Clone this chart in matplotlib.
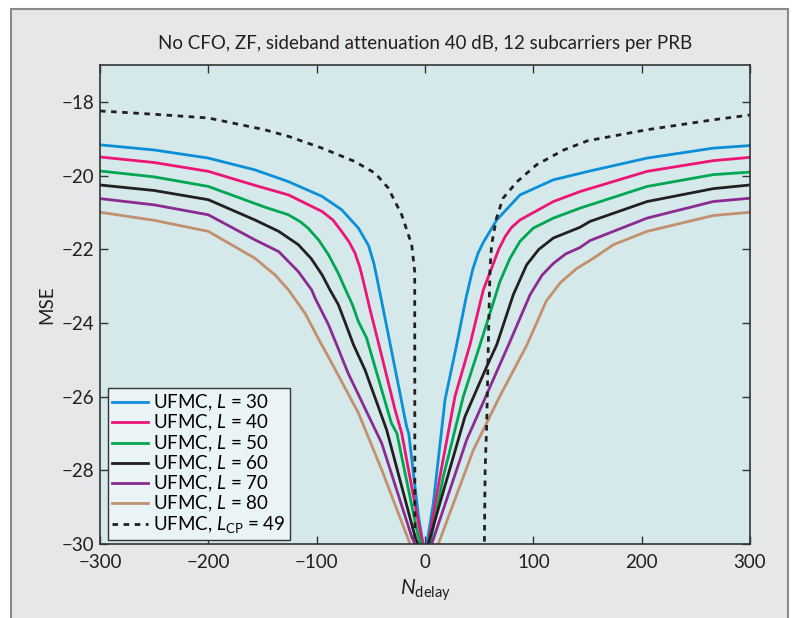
import matplotlib
matplotlib.use("Agg")
import matplotlib.pyplot as plt
from matplotlib.patches import Rectangle

plt.rcParams["font.family"] = ["Lato", "DejaVu Sans"]
plt.rcParams["mathtext.fontset"] = "custom"
plt.rcParams["mathtext.rm"] = "Lato"
plt.rcParams["mathtext.it"] = "Lato:italic"

# данные (N_delay, MSE)
x_l30 = [-300, -250, -200, -157, -126, -95, -77, -61.5, -52, -47, -40, -32, -17, -15, -6, 0,
         7.7, 18.5, 29.2, 38, 44, 49, 54, 66.2, 87.7, 118.5, 152.3, 205, 266, 300]
y_l30 = [-19.16, -19.30, -19.52, -19.84, -20.16, -20.56, -20.92, -21.42, -21.9, -22.4, -23.41, -24.59, -26.81, -27.0, -29.25, -30.3,
         -28.89, -26.08, -24.59, -23.3, -22.55, -22.1, -21.8, -21.2, -20.52, -20.11, -19.87, -19.52, -19.25, -19.18]

x_l40 = [-300, -250, -200, -157, -126, -95, -85, -77, -70, -64.6, -60, -57, -51, -42.5, -27.7, -21.5, -6, 0,
         3, 13.8, 27.7, 41.5, 53.8, 61.5, 68, 74, 80, 87.7, 118.5, 143, 205, 266, 300]
y_l40 = [-19.49, -19.64, -19.88, -20.26, -20.52, -20.97, -21.2, -21.51, -21.8, -22.1, -22.5, -22.85, -23.6, -24.59, -26.35, -26.99, -29.43, -30.3,
         -30.0, -28.17, -25.99, -24.59, -23.1, -22.51, -22.0, -21.65, -21.4, -21.2, -20.7, -20.43, -19.88, -19.59, -19.5]

x_l50 = [-300, -250, -200, -148, -126, -115, -108, -98, -89, -80, -74, -67, -61.5, -54, -31, -26, -7.7, 0,
         4.6, 16.9, 35.4, 50.8, 69.2, 78.5, 87.7, 100, 118.5, 143, 205, 266, 300]
y_l50 = [-19.87, -20.03, -20.29, -20.85, -21.06, -21.25, -21.42, -21.75, -22.15, -22.65, -23.05, -23.5, -23.96, -24.4, -26.72, -26.99, -29.6, -30.4,
         -30.0, -28.17, -25.99, -24.59, -22.87, -22.24, -21.78, -21.42, -21.15, -20.88, -20.29, -19.97, -19.9]

x_l60 = [-300, -250, -200, -157, -135, -117, -105, -95, -87.7, -80, -74, -66, -55.4, -35.4, -9.2, 0,
         3, 13.8, 36.9, 57, 66.2, 81.5, 93.8, 105, 118.5, 143, 152.3, 205, 266, 300]
y_l60 = [-20.25, -20.40, -20.65, -21.2, -21.51, -21.87, -22.25, -22.69, -23.1, -23.5, -23.96, -24.59, -25.27, -26.9, -29.8, -30.5,
         -30.0, -28.89, -26.54, -25.18, -24.59, -23.23, -22.42, -22.0, -21.69, -21.4, -21.24, -20.7, -20.35, -20.25]

x_l70 = [-300, -250, -200, -157, -135, -117, -104.6, -101.5, -89, -86, -81.5, -71, -40, -12.3, 0,
         6.2, 38.5, 78.5, 97, 108, 118.5, 130, 143, 152.3, 205, 266, 300]
y_l70 = [-20.62, -20.79, -21.06, -21.74, -22.06, -22.6, -23.1, -23.32, -24.05, -24.27, -24.59, -25.36, -27.26, -29.8, -30.6,
         -30.0, -27.17, -24.5, -23.23, -22.7, -22.38, -22.12, -21.95, -21.76, -21.15, -20.7, -20.61]

x_l80 = [-300, -250, -200, -157, -148, -138.5, -126, -110.8, -97, -86, -61.5, -40, -13.8, 0,
         12.3, 44.6, 69, 94, 112, 125, 140, 155, 174, 205, 266, 300]
y_l80 = [-20.99, -21.21, -21.51, -22.24, -22.46, -22.69, -23.1, -23.73, -24.5, -25.09, -26.44, -27.98, -30.0, -31.0,
         -30.0, -27.45, -25.99, -24.6, -23.4, -22.9, -22.52, -22.25, -21.87, -21.51, -21.08, -20.99]

x_cp = [-300, -250, -200, -148, -126, -95, -65, -46, -34, -21.5, -12.3, -9.5, -9.3,
        54.5, 55.5, 57, 58.5, 60, 61.5, 66, 72, 85, 103, 128, 150, 205, 266, 300]
y_cp = [-18.24, -18.33, -18.43, -18.75, -18.93, -19.25, -19.61, -19.93, -20.33, -21.06, -21.87, -22.6, -31,
        -31, -28.0, -26.7, -24.5, -22.51, -21.87, -21.15, -20.61, -20.16, -19.7, -19.3, -19.05, -18.75, -18.48, -18.35]

series = [
    (x_l30, y_l30, "#0a8fd8", "-", "UFMC, $L$ = 30"),
    (x_l40, y_l40, "#ec1477", "-", "UFMC, $L$ = 40"),
    (x_l50, y_l50, "#00a651", "-", "UFMC, $L$ = 50"),
    (x_l60, y_l60, "#231f20", "-", "UFMC, $L$ = 60"),
    (x_l70, y_l70, "#8b2b91", "-", "UFMC, $L$ = 70"),
    (x_l80, y_l80, "#c2906e", "-", "UFMC, $L$ = 80"),
    (x_cp, y_cp, "#231f20", (0, (2, 2)), "UFMC, $L_{\\mathrm{CP}}$ = 49"),
]

fig = plt.figure(figsize=(7.97, 6.18), dpi=100)
fig.patch.set_facecolor("white")
# серая рамка вокруг рисунка
fig.patches.append(Rectangle((11 / 797, -0.05), 777 / 797, 1.05 - 9 / 618,
                             transform=fig.transFigure, facecolor="#e6e7e8",
                             edgecolor="#8a8a8a", linewidth=1.5, zorder=-1))

ax = fig.add_axes([100 / 797, 1 - 544 / 618, 650 / 797, (544 - 65.3) / 618])
ax.set_facecolor("#d5e8ea")

for xs, ys, color, ls, label in series:
    ax.plot(xs, ys, color=color, linestyle=ls, linewidth=2.0, label=label)

ax.set_xlim(-300, 300)
ax.set_ylim(-30, -17)
ax.set_xticks([-300, -200, -100, 0, 100, 200, 300])
ax.set_yticks([-30, -28, -26, -24, -22, -20, -18])
ax.tick_params(direction="in", top=True, right=True, length=6, width=1,
               colors="#333333", labelsize=13.5, labelcolor="#231f20")
ax.tick_params(axis="x", pad=7)
ax.tick_params(axis="y", pad=4)
for s in ax.spines.values():
    s.set_color("#333333")
    s.set_linewidth(1.2)

ax.set_title("No CFO, ZF, sideband attenuation 40 dB, 12 subcarriers per PRB",
             fontsize=13.5, color="#231f20", pad=12)
ax.set_xlabel("$N_{\\mathrm{delay}}$", fontsize=15, color="#231f20", labelpad=5)
ax.set_ylabel("MSE", fontsize=13.5, color="#231f20", labelpad=5)

leg = ax.legend(loc="lower left", bbox_to_anchor=(0.012, 0.008), fontsize=13.5,
                handlelength=1.9, handletextpad=0.25, labelspacing=0.0,
                borderpad=0.25, borderaxespad=0.0, fancybox=False,
                framealpha=1, facecolor="#eaf3f5", edgecolor="#333333")
leg.get_frame().set_linewidth(1.0)

plt.savefig("out.png", dpi=100)
plt.close()
